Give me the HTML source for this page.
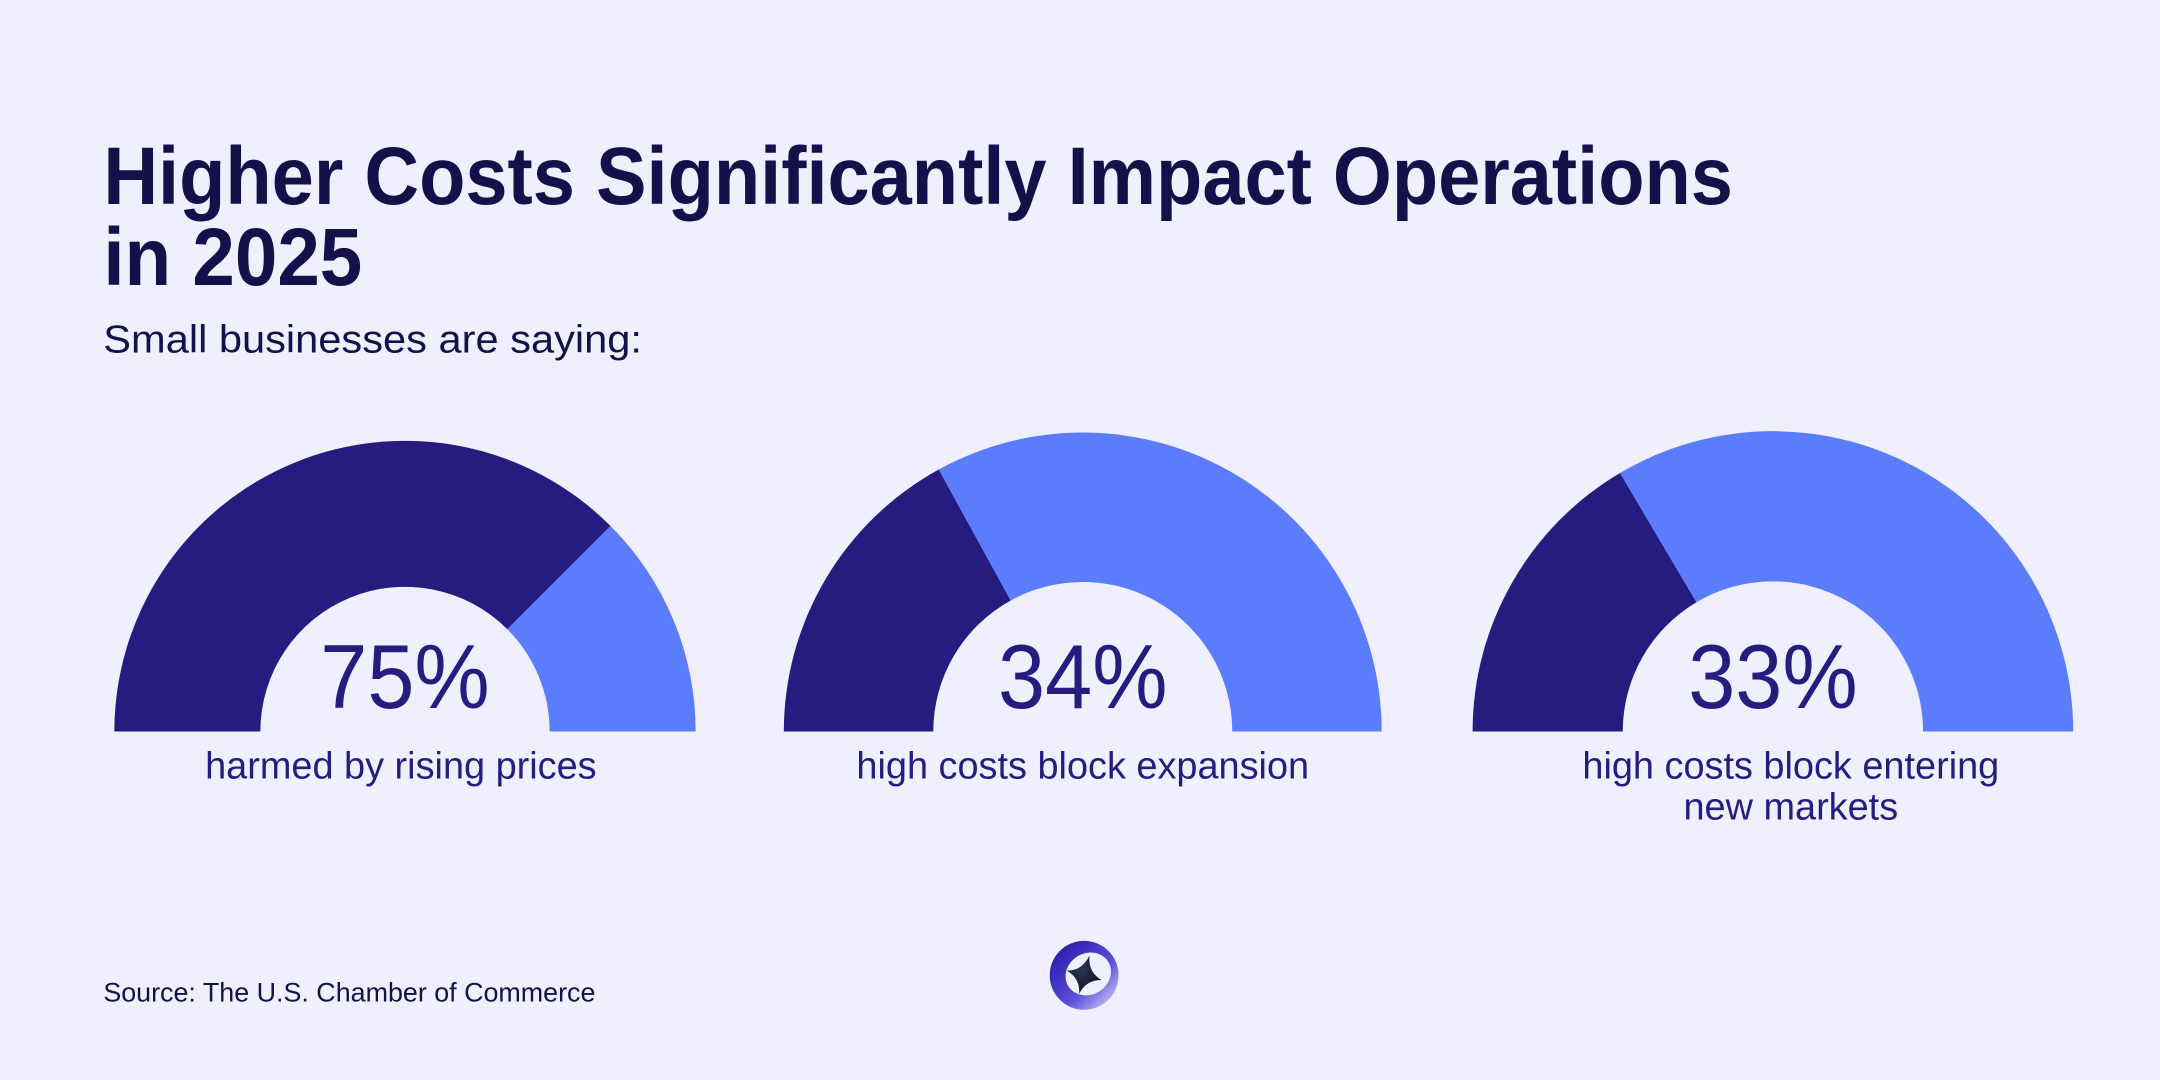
<!DOCTYPE html>
<html><head><meta charset="utf-8"><style>
html,body{margin:0;padding:0;background:#efeffd;}
svg{display:block;font-family:"Liberation Sans",sans-serif;}
</style></head><body>
<svg id="chart" width="2160" height="1080" viewBox="0 0 1568 784" xmlns="http://www.w3.org/2000/svg">
<defs>
<linearGradient id="lg" x1="0" y1="0" x2="1" y2="1">
<stop offset="0" stop-color="#1d0fa8"/><stop offset="0.6" stop-color="#5a4fd6"/><stop offset="1" stop-color="#e6dcff"/>
</linearGradient>
<radialGradient id="sg" cx="0.4" cy="0.4" r="0.7"><stop offset="0" stop-color="#2a3550"/><stop offset="1" stop-color="#0b0f1e"/></radialGradient>
</defs>
<rect width="1568" height="784" fill="#efeffd"/>
<text x="75" y="148" font-size="59" font-weight="bold" fill="#13104a" textLength="1183" lengthAdjust="spacingAndGlyphs">Higher Costs Significantly Impact Operations</text>
<text x="75" y="207" font-size="59" font-weight="bold" fill="#13104a" textLength="188" lengthAdjust="spacingAndGlyphs">in 2025</text>
<text x="75" y="256" font-size="28" fill="#13104a" textLength="391" lengthAdjust="spacingAndGlyphs">Small businesses are saying:</text>
<g id="gauges"></g>
<text x="75" y="727" font-size="19.5" fill="#13104a">Source: The U.S. Chamber of Commerce</text>
<g>
<circle cx="787" cy="708" r="25" fill="url(#lg)"/>
<ellipse cx="790" cy="707" rx="17" ry="15" transform="rotate(-30 790 707)" fill="#efeffd"/>
<path d="M787 693 Q789 705 800 708 Q789 711 787 722 Q785 711 774 708 Q785 705 787 693 Z" transform="rotate(15 787 708)" fill="url(#sg)"/>
</g>
</svg>
<script>
const values = [75, 34, 33];
const percentLabels = ["75%", "34%", "33%"];
const captions = [["harmed by rising prices"], ["high costs block expansion"], ["high costs block entering", "new markets"]];
const NS = "http://www.w3.org/2000/svg";
const g = document.getElementById("gauges");
const geo = [{cx:294,r:211,ri:105,capx:291},{cx:786,r:217,ri:108.5,capx:786},{cx:1287,r:218,ri:109,capx:1300}];
const cy = 531;
function pt(cx, r, frac){ const a = Math.PI*(1-frac); return [cx + r*Math.cos(a), cy - r*Math.sin(a)]; }
function arc(cx, r, ri, f0, f1){
  const [x0,y0]=pt(cx,r,f0),[x1,y1]=pt(cx,r,f1),[x2,y2]=pt(cx,ri,f1),[x3,y3]=pt(cx,ri,f0);
  return `M${x0} ${y0} A${r} ${r} 0 0 1 ${x1} ${y1} L${x2} ${y2} A${ri} ${ri} 0 0 0 ${x3} ${y3} Z`;
}
values.forEach((v,i)=>{
  const c = geo[i], f = v/100;
  const d = document.createElementNS(NS,"path");
  d.setAttribute("d", arc(c.cx,c.r,c.ri,0,f)); d.setAttribute("fill","#261c80");
  
  
  g.appendChild(d);
  const l = document.createElementNS(NS,"path");
  l.setAttribute("d", arc(c.cx,c.r,c.ri,f,1)); l.setAttribute("fill","#5b7cfd");
  
  
  g.appendChild(l);
  const t = document.createElementNS(NS,"text");
  t.setAttribute("x", c.cx); t.setAttribute("y", 514); t.setAttribute("text-anchor","middle");
  t.setAttribute("font-size","66"); t.setAttribute("fill","#261c80");
  t.setAttribute("textLength","123"); t.setAttribute("lengthAdjust","spacingAndGlyphs");
  t.textContent = percentLabels[i];
  
  
  g.appendChild(t);
  captions[i].forEach((line,j)=>{
    const cap = document.createElementNS(NS,"text");
    cap.setAttribute("x", c.capx); cap.setAttribute("y", 565 + j*30); cap.setAttribute("text-anchor","middle");
    cap.setAttribute("font-size","27.5"); cap.setAttribute("fill","#261c80");
    cap.textContent = line;
    
    
    g.appendChild(cap);
  });
});
</script>
</body></html>
